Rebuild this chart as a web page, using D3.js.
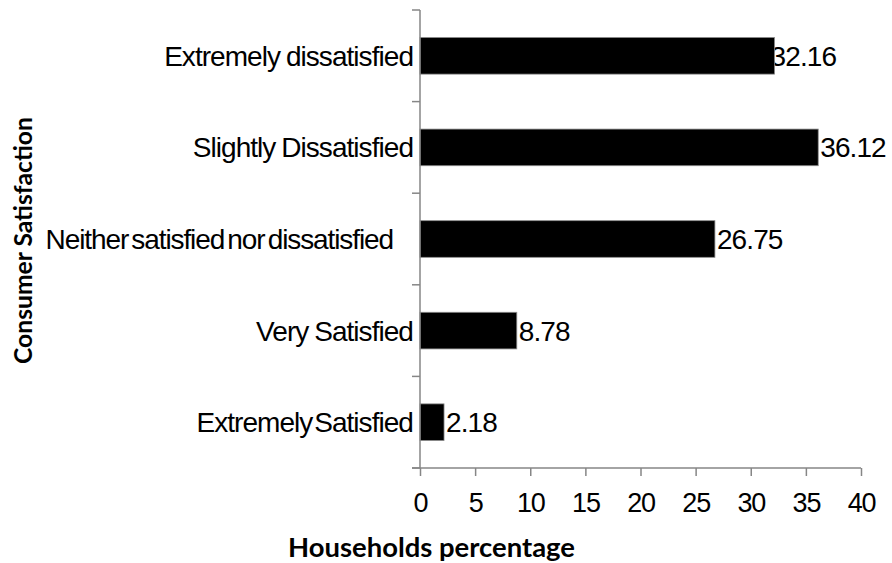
<!DOCTYPE html>
<html>
<head>
<meta charset="utf-8">
<script src="https://cdn.jsdelivr.net/npm/d3@7"></script>
<style>
  html, body { margin: 0; padding: 0; background: #fff; }
  svg { display: block; }
  .cat { font-family: "Liberation Sans", Arial, sans-serif; font-size: 28px; letter-spacing: -0.95px; word-spacing: -1px; fill: #000; }
  .cat.tight { word-spacing: -5px; }
  .cat.narrow { word-spacing: -3.5px; letter-spacing: -1.1px; }
  .tick-lbl { font-family: "Liberation Sans", Arial, sans-serif; font-size: 27px; letter-spacing: -1.2px; fill: #000; }
  .val { font-family: "Liberation Sans", Arial, sans-serif; font-size: 28px; letter-spacing: -0.9px; fill: #000; }
  .title { font-family: Lato, "Open Sans", sans-serif; font-weight: bold; fill: #000; }
</style>
</head>
<body>
<script>
// ---- data ----
const categories = [
  "Extremely dissatisfied",
  "Slightly Dissatisfied",
  "Neither satisfied nor dissatisfied",
  "Very Satisfied",
  "Extremely Satisfied"
];
const values = [32.16, 36.12, 26.75, 8.78, 2.18];
const valueLabels = ["32.16", "36.12", "26.75", "8.78", "2.18"];
const xTicks = [0, 5, 10, 15, 20, 25, 30, 35, 40];
const xTitle = "Households percentage";
const yTitle = "Consumer Satisfaction";

// ---- layout / style ----
const W = 892, H = 563;
const mLeft = 420, mRight = 861, mTop = 10, mBottom = 468;
const axisColor = "#868686";
const catShift = { "Neither satisfied nor dissatisfied": -20 };   // trailing blank in the source label
const catClass = { "Neither satisfied nor dissatisfied": "cat narrow", "Extremely Satisfied": "cat tight" };
const valShift = { "32.16": -6 };                                 // label tucked under bar end in source

const svg = d3.select("body").append("svg").attr("width", W).attr("height", H);

const x = d3.scaleLinear().domain([0, 40]).range([mLeft, mRight]);
const y = d3.scaleBand().domain(categories).range([mTop, mBottom]).paddingInner(0.6).paddingOuter(0.3);
const yEdge = d3.scaleLinear().domain([0, categories.length]).range([mTop, mBottom]);

// value labels (drawn before bars)
svg.append("g").selectAll("text").data(values).join("text")
  .attr("class", "val")
  .attr("x", (d, i) => x(d) + 2 + (valShift[valueLabels[i]] || 0))
  .attr("y", (d, i) => y(categories[i]) + y.bandwidth() / 2)
  .attr("dy", "0.36em")
  .text((d, i) => valueLabels[i]);

// bars
svg.append("g").selectAll("rect").data(values).join("rect")
  .attr("x", x(0))
  .attr("y", (d, i) => y(categories[i]))
  .attr("width", d => x(d) - x(0))
  .attr("height", y.bandwidth())
  .attr("fill", "#000")
  .attr("stroke", "#8c8c8c")
  .attr("stroke-width", 0.8);

// x axis
const gx = svg.append("g").attr("transform", `translate(0,${mBottom})`)
  .call(d3.axisBottom(x).tickValues(xTicks).tickSize(8).tickSizeOuter(0).tickFormat(d3.format("d")));
gx.select(".domain").remove();
gx.selectAll(".tick line").attr("stroke", axisColor).attr("stroke-width", 1.5);
gx.selectAll(".tick text").attr("class", "tick-lbl").attr("font-size", null).attr("font-family", null)
  .attr("y", 44).attr("dy", 0);
svg.append("line").attr("x1", mLeft - 8).attr("x2", mRight).attr("y1", mBottom).attr("y2", mBottom)
  .attr("stroke", axisColor).attr("stroke-width", 1.5);

// y axis
svg.append("line").attr("x1", mLeft).attr("x2", mLeft).attr("y1", mTop).attr("y2", mBottom)
  .attr("stroke", axisColor).attr("stroke-width", 1.5);
svg.append("g").selectAll("line").data(d3.range(categories.length + 1)).join("line")
  .attr("x1", mLeft - 8).attr("x2", mLeft)
  .attr("y1", d => yEdge(d)).attr("y2", d => yEdge(d))
  .attr("stroke", axisColor).attr("stroke-width", 1.5);
const gy = svg.append("g").attr("transform", `translate(${mLeft},0)`)
  .call(d3.axisLeft(y).tickSize(0).tickPadding(7));
gy.select(".domain").remove();
gy.selectAll(".tick text")
  .attr("class", d => catClass[d] || "cat")
  .attr("font-size", null).attr("font-family", null)
  .attr("dy", "0.36em")
  .attr("dx", d => catShift[d] || 0);

// titles
function fit(sel, target, base) {
  sel.attr("font-size", base);
  const len = sel.node().getComputedTextLength();
  sel.attr("font-size", base * target / len);
}
const xt = svg.append("text").attr("class", "title")
  .attr("x", 431.5).attr("y", 557).attr("text-anchor", "middle").text(xTitle);
fit(xt, 287, 26);
const yt = svg.append("text").attr("class", "title")
  .attr("transform", "translate(32,240.5) rotate(-90)").attr("text-anchor", "middle").text(yTitle);
fit(yt, 247, 26);
</script>
</body>
</html>
